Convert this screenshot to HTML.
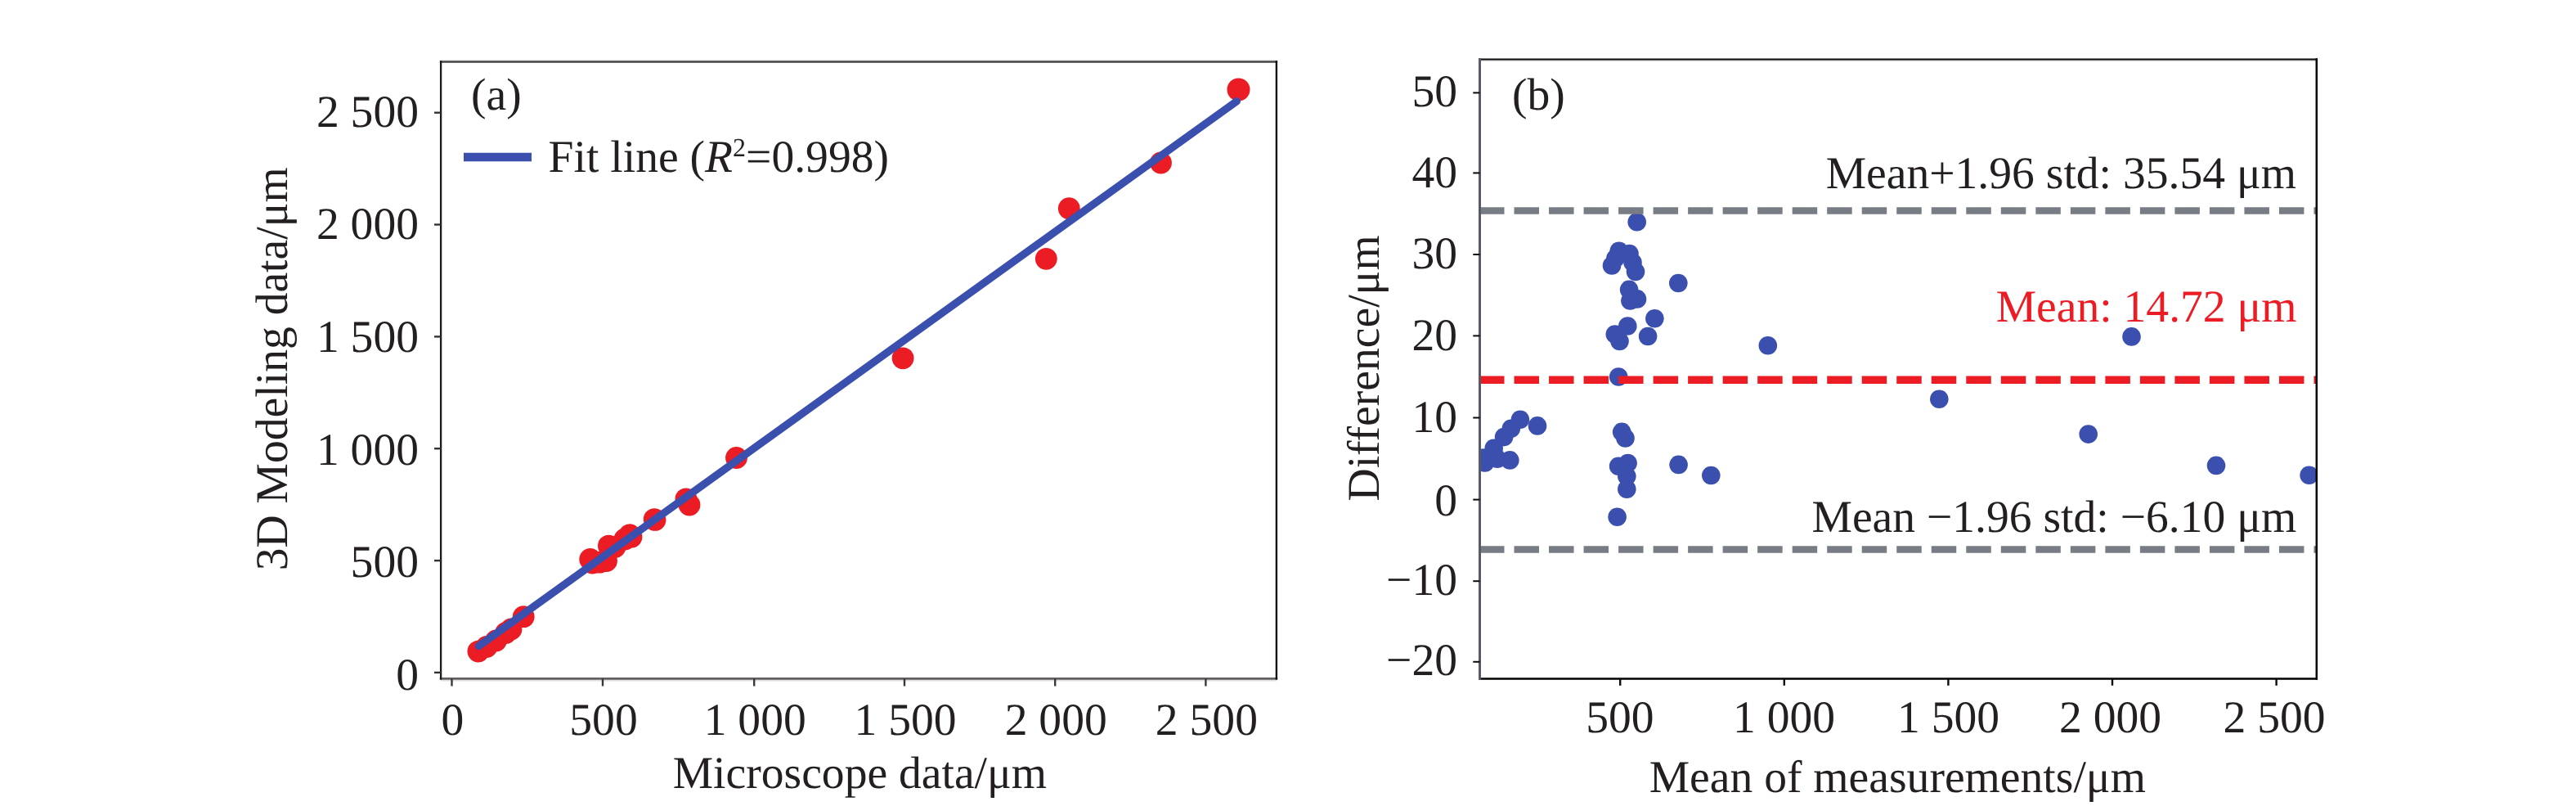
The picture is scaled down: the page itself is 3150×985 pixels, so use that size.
<!DOCTYPE html>
<html lang="en"><head><meta charset="utf-8"><title>Figure</title>
<style>html,body{margin:0;padding:0;background:#fff}svg{display:block}text{text-rendering:geometricPrecision;font-family:"Liberation Serif",serif;font-size:55.6px;fill:#231f20}.e{text-anchor:end}.m{text-anchor:middle}</style></head><body>
<svg width="3150" height="985" viewBox="0 0 3150 985">
<rect width="3150" height="985" fill="#fff"/>
<g id="plot-a">
<g fill="#ec1c24">
<circle cx="584.9" cy="796.1" r="13.4"/>
<circle cx="595.0" cy="790.5" r="13.4"/>
<circle cx="606.5" cy="783.0" r="13.4"/>
<circle cx="618.5" cy="773.5" r="13.4"/>
<circle cx="625.0" cy="769.0" r="13.4"/>
<circle cx="640.2" cy="753.7" r="13.4"/>
<circle cx="721.7" cy="683.5" r="13.4"/>
<circle cx="724.5" cy="688.0" r="13.4"/>
<circle cx="733.2" cy="687.2" r="13.4"/>
<circle cx="741.5" cy="685.6" r="13.4"/>
<circle cx="744.4" cy="667.1" r="13.4"/>
<circle cx="752.0" cy="668.5" r="13.4"/>
<circle cx="764.0" cy="659.0" r="13.4"/>
<circle cx="770.0" cy="653.7" r="13.4"/>
<circle cx="772.0" cy="656.2" r="13.4"/>
<circle cx="800.2" cy="634.6" r="13.4"/>
<circle cx="801.0" cy="635.4" r="13.4"/>
<circle cx="838.9" cy="609.8" r="13.4"/>
<circle cx="843.0" cy="617.0" r="13.4"/>
<circle cx="900.5" cy="559.5" r="13.4"/>
<circle cx="1104.1" cy="437.8" r="13.4"/>
<circle cx="1279.3" cy="316.3" r="13.4"/>
<circle cx="1307.3" cy="254.7" r="13.4"/>
<circle cx="1419.5" cy="199.0" r="13.4"/>
<circle cx="1514.5" cy="109.5" r="14"/>
</g>
<polyline points="585.5,789.5 1512.3,123.7" fill="none" stroke="#3a4fae" stroke-width="9.4" stroke-linecap="round" stroke-linejoin="round"/>
<line x1="539.1" y1="73.4" x2="1560.9" y2="73.4" stroke="#ebebeb" stroke-width="1.4"/>
<line x1="539.1" y1="831.7" x2="1560.9" y2="831.7" stroke="#dedede" stroke-width="1.6"/>
<g stroke-linecap="square">
<line x1="539.1" y1="75.4" x2="1560.9" y2="75.4" stroke="#474344" stroke-width="2.5"/>
<line x1="539.1" y1="829.4" x2="1560.9" y2="829.4" stroke="#625e5f" stroke-width="2.7"/>
<line x1="539.1" y1="75.4" x2="539.1" y2="829.4" stroke="#1d191a" stroke-width="2.3"/>
<line x1="1560.9" y1="75.4" x2="1560.9" y2="829.4" stroke="#000" stroke-width="2.3"/>
</g>
<g>
<line x1="552.5" y1="829.4" x2="552.5" y2="838.5" stroke="#3c3839" stroke-width="2.4"/>
<line x1="531.0" y1="821.9" x2="539.1" y2="821.9" stroke="#353132" stroke-width="2.4"/>
<line x1="737.0" y1="829.4" x2="737.0" y2="838.5" stroke="#3c3839" stroke-width="2.4"/>
<line x1="531.0" y1="685.1" x2="539.1" y2="685.1" stroke="#353132" stroke-width="2.4"/>
<line x1="922.2" y1="829.4" x2="922.2" y2="838.5" stroke="#3c3839" stroke-width="2.4"/>
<line x1="531.0" y1="548.2" x2="539.1" y2="548.2" stroke="#353132" stroke-width="2.4"/>
<line x1="1106.0" y1="829.4" x2="1106.0" y2="838.5" stroke="#3c3839" stroke-width="2.4"/>
<line x1="531.0" y1="411.4" x2="539.1" y2="411.4" stroke="#353132" stroke-width="2.4"/>
<line x1="1290.2" y1="829.4" x2="1290.2" y2="838.5" stroke="#3c3839" stroke-width="2.4"/>
<line x1="531.0" y1="274.5" x2="539.1" y2="274.5" stroke="#353132" stroke-width="2.4"/>
<line x1="1474.4" y1="829.4" x2="1474.4" y2="838.5" stroke="#3c3839" stroke-width="2.4"/>
<line x1="531.0" y1="137.7" x2="539.1" y2="137.7" stroke="#353132" stroke-width="2.4"/>
</g>
<text class="m" x="553.5" y="898">0</text>
<text class="e" x="512" y="843.1">0</text>
<text class="m" x="738.0" y="898">500</text>
<text class="e" x="512" y="705.4">500</text>
<text class="m" x="923.2" y="898">1 000</text>
<text class="e" x="512" y="567.7">1 000</text>
<text class="m" x="1107.0" y="898">1 500</text>
<text class="e" x="512" y="430.0">1 500</text>
<text class="m" x="1291.2" y="898">2 000</text>
<text class="e" x="512" y="292.3">2 000</text>
<text class="m" x="1475.4" y="898">2 500</text>
<text class="e" x="512" y="154.6">2 500</text>
<text x="822.7" y="963">Microscope data/μm</text>
<text transform="translate(350.8,697.3) rotate(-90)">3D Modeling data/μm</text>
<text x="576" y="133.7">(a)</text>
<line x1="567" y1="192" x2="650" y2="192" stroke="#3a4fae" stroke-width="10.5"/>
<filter id="nf" x="-10%" y="-10%" width="120%" height="120%"><feOffset dx="0" dy="0"/></filter>
<text x="670.6" y="210">Fit line (<tspan font-style="italic">R</tspan></text>
<g filter="url(#nf)"><text x="896.05" y="191" style="font-size:32px">2</text></g>
<text x="912.05" y="210">=0.998)</text>
</g>
<g id="plot-b">
<clipPath id="cb"><rect x="1810.9" y="72.5" width="1021.9" height="757.1"/></clipPath>
<g fill="#3a4fae" clip-path="url(#cb)">
<circle cx="2001.7" cy="271.3" r="11.3"/>
<circle cx="1979.7" cy="306.8" r="11.3"/>
<circle cx="1992.5" cy="310.0" r="11.3"/>
<circle cx="1975.4" cy="315.8" r="11.3"/>
<circle cx="1971.0" cy="324.5" r="11.3"/>
<circle cx="1996.5" cy="320.7" r="11.3"/>
<circle cx="2000.0" cy="331.9" r="11.3"/>
<circle cx="2052.3" cy="346.0" r="11.3"/>
<circle cx="1992.1" cy="353.9" r="11.3"/>
<circle cx="1993.4" cy="367.5" r="11.3"/>
<circle cx="2002.0" cy="365.4" r="11.3"/>
<circle cx="2023.4" cy="389.2" r="11.3"/>
<circle cx="1990.3" cy="398.5" r="11.3"/>
<circle cx="1974.8" cy="408.5" r="11.3"/>
<circle cx="1980.5" cy="417.0" r="11.3"/>
<circle cx="2015.1" cy="411.0" r="11.3"/>
<circle cx="2161.8" cy="422.3" r="11.3"/>
<circle cx="1979.2" cy="460.5" r="11.3"/>
<circle cx="1858.9" cy="512.8" r="11.3"/>
<circle cx="1880.0" cy="520.4" r="11.3"/>
<circle cx="1847.8" cy="523.8" r="11.3"/>
<circle cx="1839.1" cy="534.1" r="11.3"/>
<circle cx="1826.7" cy="547.7" r="11.3"/>
<circle cx="1815.9" cy="565.5" r="11.3"/>
<circle cx="1813.7" cy="559.5" r="11.3"/>
<circle cx="1831.0" cy="560.7" r="11.3"/>
<circle cx="1846.3" cy="562.4" r="11.3"/>
<circle cx="1983.2" cy="527.9" r="11.3"/>
<circle cx="1987.5" cy="535.4" r="11.3"/>
<circle cx="1990.6" cy="566.1" r="11.3"/>
<circle cx="1979.1" cy="569.8" r="11.3"/>
<circle cx="1989.3" cy="581.9" r="11.3"/>
<circle cx="1989.3" cy="597.7" r="11.3"/>
<circle cx="1977.6" cy="631.8" r="11.3"/>
<circle cx="2052.6" cy="567.9" r="11.3"/>
<circle cx="2092.3" cy="581.0" r="11.3"/>
<circle cx="2606.5" cy="411.4" r="11.3"/>
<circle cx="2371.3" cy="487.8" r="11.3"/>
<circle cx="2553.7" cy="530.6" r="11.3"/>
<circle cx="2710.0" cy="568.9" r="11.3"/>
<circle cx="2823.6" cy="580.8" r="11.3"/>
</g>
<line x1="1809" y1="257.5" x2="2832.8" y2="257.5" stroke="#787c84" stroke-width="8.7" stroke-dasharray="30.5 12.02"/>
<line x1="1809" y1="464.3" x2="2832.8" y2="464.3" stroke="#ec1c24" stroke-width="9.6" stroke-dasharray="30.5 12.02"/>
<line x1="1809" y1="671.5" x2="2832.8" y2="671.5" stroke="#787c84" stroke-width="8.6" stroke-dasharray="30.5 12.02"/>
<g stroke-linecap="square">
<line x1="1809.5" y1="74.1" x2="2832.8" y2="74.1" stroke="#c9c9c9" stroke-width="1.5"/>
<line x1="1809.5" y1="72.5" x2="2832.8" y2="72.5" stroke="#0a0a0a" stroke-width="1.8"/>
<line x1="1809.5" y1="829.6" x2="2832.8" y2="829.6" stroke="#000" stroke-width="2.5"/>
<line x1="1809.5" y1="72.5" x2="1809.5" y2="829.6" stroke="#585b64" stroke-width="3"/>
<line x1="2832.8" y1="72.5" x2="2832.8" y2="829.6" stroke="#000" stroke-width="2.5"/>
</g>
<g stroke="#0a0a0a">
<line x1="1981.2" y1="829.6" x2="1981.2" y2="837.8" stroke-width="2.4"/>
<line x1="2181.8" y1="829.6" x2="2181.8" y2="837.8" stroke-width="2.4"/>
<line x1="2382.4" y1="829.6" x2="2382.4" y2="837.8" stroke-width="2.4"/>
<line x1="2583.0" y1="829.6" x2="2583.0" y2="837.8" stroke-width="2.4"/>
<line x1="2783.6" y1="829.6" x2="2783.6" y2="837.8" stroke-width="2.4"/>
<line x1="1801.3" y1="808.8" x2="1809.5" y2="808.8" stroke-width="2"/>
<line x1="1801.3" y1="710.2" x2="1809.5" y2="710.2" stroke-width="2"/>
<line x1="1801.3" y1="610.6" x2="1809.5" y2="610.6" stroke-width="2"/>
<line x1="1801.3" y1="510.5" x2="1809.5" y2="510.5" stroke-width="2"/>
<line x1="1801.3" y1="410.4" x2="1809.5" y2="410.4" stroke-width="2"/>
<line x1="1801.3" y1="311.0" x2="1809.5" y2="311.0" stroke-width="2"/>
<line x1="1801.3" y1="211.4" x2="1809.5" y2="211.4" stroke-width="2"/>
<line x1="1801.3" y1="113.4" x2="1809.5" y2="113.4" stroke-width="2"/>
</g>
<text class="m" x="1980.9" y="894.7">500</text>
<text class="m" x="2181.5" y="894.7">1 000</text>
<text class="m" x="2382.5" y="894.7">1 500</text>
<text class="m" x="2580.5" y="894.7">2 000</text>
<text class="m" x="2781.1" y="894.7">2 500</text>
<text class="e" x="1782" y="825.4">−20</text>
<text class="e" x="1782" y="727.4">−10</text>
<text class="e" x="1782" y="629.6">0</text>
<text class="e" x="1782" y="528.4">10</text>
<text class="e" x="1782" y="427.6">20</text>
<text class="e" x="1782" y="327.9">30</text>
<text class="e" x="1782" y="228.8">40</text>
<text class="e" x="1782" y="130.0">50</text>
<text x="2016.7" y="968.1">Mean of measurements/μm</text>
<text transform="translate(1686.1,612.5) rotate(-90)">Difference/μm</text>
<text x="1849" y="134">(b)</text>
<text class="e" x="2808" y="229.8">Mean+1.96 std: 35.54 μm</text>
<text class="e" x="2808.6" y="393" style="fill:#ec1c24">Mean: 14.72 μm</text>
<text class="e" x="2808.3" y="650.3">Mean −1.96 std: −6.10 μm</text>
</g>
</svg></body></html>
